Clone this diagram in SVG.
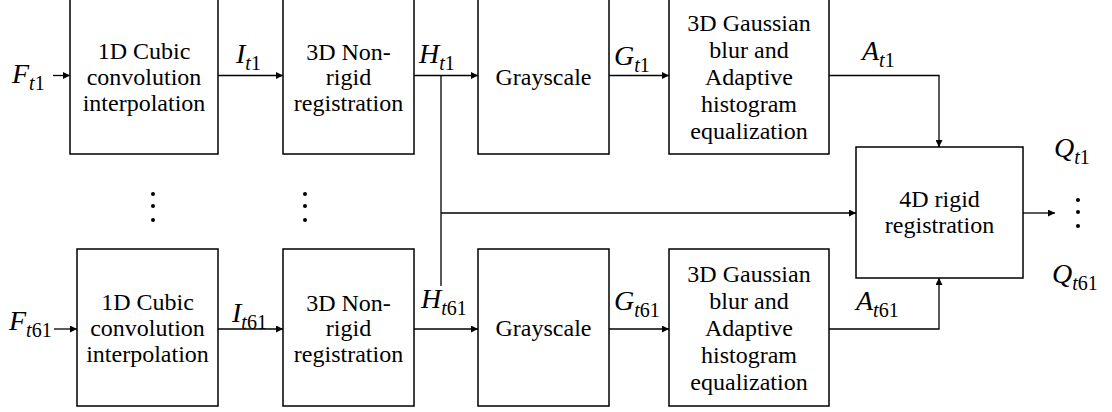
<svg xmlns="http://www.w3.org/2000/svg" width="1112" height="412" viewBox="0 0 1112 412">
  <defs>
    <marker id="arr" viewBox="0 0 10 10" refX="10" refY="5" markerWidth="8" markerHeight="7" markerUnits="userSpaceOnUse" orient="auto">
      <path d="M0,0 L10,5 L0,10 z" fill="#000"/>
    </marker>
    <style>
      .box { fill: #fff; stroke: #000; stroke-width: 1.5; }
      .lbl { font-family: "Liberation Serif", "Times New Roman", serif; font-size: 24px; fill: #000; text-anchor: middle; }
      .m { font-family: "Liberation Serif", "Times New Roman", serif; font-size: 28px; font-style: italic; fill: #000; }
      .s { font-size: 20px; font-style: italic; }
      .sd { font-size: 20px; font-style: normal; }
      .wire { fill: none; stroke: #000; stroke-width: 1.3; }
      .dot { fill: #000; }
    </style>
  </defs>

  <!-- processing blocks, upper chain (t1) -->
  <g id="interp_t1">
    <rect class="box" x="70" y="-3" width="148" height="157"/>
    <text class="lbl" x="144" y="59">1D Cubic</text>
    <text class="lbl" x="144" y="85">convolution</text>
    <text class="lbl" x="144" y="111">interpolation</text>
  </g>
  <g id="nonrigid_t1">
    <rect class="box" x="283" y="-3" width="131" height="157"/>
    <text class="lbl" x="348.5" y="60">3D Non-</text>
    <text class="lbl" x="348.5" y="85">rigid</text>
    <text class="lbl" x="348.5" y="111">registration</text>
  </g>
  <g id="gray_t1">
    <rect class="box" x="478" y="-3" width="131" height="157"/>
    <text class="lbl" x="543.5" y="85">Grayscale</text>
  </g>
  <g id="blur_t1">
    <rect class="box" x="669" y="-3" width="160" height="157"/>
    <text class="lbl" x="749" y="31">3D Gaussian</text>
    <text class="lbl" x="749" y="58">blur and</text>
    <text class="lbl" x="749" y="85">Adaptive</text>
    <text class="lbl" x="749" y="112">histogram</text>
    <text class="lbl" x="749" y="139">equalization</text>
  </g>

  <!-- processing blocks, lower chain (t61) -->
  <g id="interp_t61">
    <rect class="box" x="77" y="249" width="141" height="157"/>
    <text class="lbl" x="147.5" y="310">1D Cubic</text>
    <text class="lbl" x="147.5" y="336">convolution</text>
    <text class="lbl" x="147.5" y="362">interpolation</text>
  </g>
  <g id="nonrigid_t61">
    <rect class="box" x="283" y="249" width="131" height="157"/>
    <text class="lbl" x="348.5" y="311">3D Non-</text>
    <text class="lbl" x="348.5" y="336">rigid</text>
    <text class="lbl" x="348.5" y="362">registration</text>
  </g>
  <g id="gray_t61">
    <rect class="box" x="478" y="249" width="131" height="157"/>
    <text class="lbl" x="543.5" y="336">Grayscale</text>
  </g>
  <g id="blur_t61">
    <rect class="box" x="669" y="249" width="160" height="157"/>
    <text class="lbl" x="749" y="282">3D Gaussian</text>
    <text class="lbl" x="749" y="309">blur and</text>
    <text class="lbl" x="749" y="336">Adaptive</text>
    <text class="lbl" x="749" y="363">histogram</text>
    <text class="lbl" x="749" y="390">equalization</text>
  </g>

  <!-- joint registration -->
  <g id="rigid4d">
    <rect class="box" x="856" y="147" width="167" height="131"/>
    <text class="lbl" x="939.5" y="207">4D rigid</text>
    <text class="lbl" x="939.5" y="233">registration</text>
  </g>

  <!-- connectors -->
  <g id="connectors">
    <line class="wire" x1="53" y1="75.5" x2="70" y2="75.5" marker-end="url(#arr)"/>
    <line class="wire" x1="218" y1="75.5" x2="283" y2="75.5" marker-end="url(#arr)"/>
    <line class="wire" x1="414" y1="75.5" x2="478" y2="75.5" marker-end="url(#arr)"/>
    <line class="wire" x1="609" y1="75.5" x2="669" y2="75.5" marker-end="url(#arr)"/>
    <polyline class="wire" points="829,75.5 939,75.5 939,147" marker-end="url(#arr)"/>

    <line class="wire" x1="441" y1="75.5" x2="441" y2="286"/>
    <line class="wire" x1="441" y1="213" x2="856" y2="213" marker-end="url(#arr)"/>

    <line class="wire" x1="54" y1="329" x2="77" y2="329" marker-end="url(#arr)"/>
    <line class="wire" x1="218" y1="329" x2="283" y2="329" marker-end="url(#arr)"/>
    <line class="wire" x1="414" y1="329" x2="478" y2="329" marker-end="url(#arr)"/>
    <line class="wire" x1="609" y1="329" x2="669" y2="329" marker-end="url(#arr)"/>
    <polyline class="wire" points="829,329 939,329 939,278" marker-end="url(#arr)"/>

    <line class="wire" x1="1023" y1="213" x2="1055" y2="213" marker-end="url(#arr)"/>
  </g>

  <!-- signal labels -->
  <g id="labels">
    <text class="m" x="12" y="83">F<tspan class="s" dy="7">t</tspan><tspan class="sd">1</tspan></text>
    <text class="m" x="236" y="63">I<tspan class="s" dy="7">t</tspan><tspan class="sd">1</tspan></text>
    <text class="m" x="419" y="63">H<tspan class="s" dy="7">t</tspan><tspan class="sd">1</tspan></text>
    <text class="m" x="614" y="65">G<tspan class="s" dy="7">t</tspan><tspan class="sd">1</tspan></text>
    <text class="m" x="862" y="60">A<tspan class="s" dy="7">t</tspan><tspan class="sd">1</tspan></text>
    <text class="m" x="1054" y="157">Q<tspan class="s" dy="7">t</tspan><tspan class="sd">1</tspan></text>

    <text class="m" x="9" y="330">F<tspan class="s" dy="7">t</tspan><tspan class="sd">61</tspan></text>
    <text class="m" x="232" y="322">I<tspan class="s" dy="7">t</tspan><tspan class="sd">61</tspan></text>
    <text class="m" x="421" y="308">H<tspan class="s" dy="7">t</tspan><tspan class="sd">61</tspan></text>
    <text class="m" x="614" y="310">G<tspan class="s" dy="7">t</tspan><tspan class="sd">61</tspan></text>
    <text class="m" x="856" y="310">A<tspan class="s" dy="7">t</tspan><tspan class="sd">61</tspan></text>
    <text class="m" x="1052" y="283">Q<tspan class="s" dy="7">t</tspan><tspan class="sd">61</tspan></text>
  </g>

  <!-- vertical ellipses -->
  <g id="ellipses">
    <circle class="dot" cx="153" cy="194" r="2"/>
    <circle class="dot" cx="153" cy="206" r="2"/>
    <circle class="dot" cx="153" cy="220" r="2"/>
    <circle class="dot" cx="305" cy="194" r="2"/>
    <circle class="dot" cx="305" cy="206" r="2"/>
    <circle class="dot" cx="305" cy="220" r="2"/>
    <circle class="dot" cx="1078" cy="200" r="2"/>
    <circle class="dot" cx="1078" cy="212" r="2"/>
    <circle class="dot" cx="1078" cy="226" r="2"/>
  </g>
</svg>
